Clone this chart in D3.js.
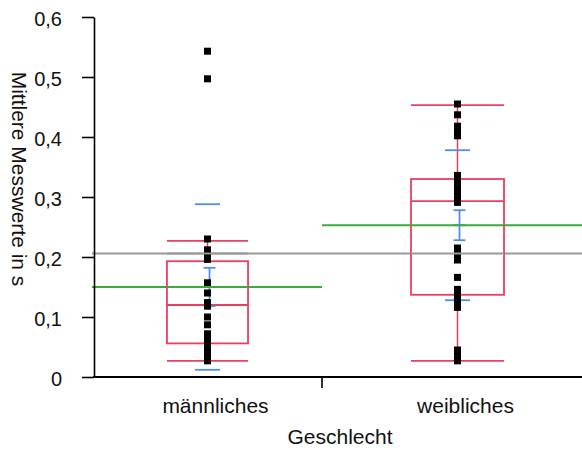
<!DOCTYPE html>
<html>
<head>
<meta charset="utf-8">
<script src="https://cdn.jsdelivr.net/npm/d3@7"></script>
<style>
	body { margin: 0; background: #fff; }
	text { font-family: 'Liberation Sans', Arial, sans-serif; fill: #111; }
</style>
</head>
<body>
<div id="chart"></div>
<script>
// groups and raw values
var groups = ['männliches', 'weibliches'];

var maleValues = [0.543, 0.497, 0.230, 0.212, 0.204, 0.196, 0.157, 0.140, 0.124, 0.118, 0.100, 0.087,
	0.072, 0.063, 0.054, 0.046, 0.039, 0.032, 0.027];

var femaleValues = [0.455, 0.437, 0.418, 0.410, 0.402, 0.336, 0.328, 0.320, 0.312, 0.304, 0.297, 0.291,
	0.215, 0.205, 0.195, 0.166, 0.146, 0.138, 0.131, 0.124, 0.116, 0.045, 0.035, 0.030, 0.027];

// box statistics as shown
var q1 = [0.056, 0.137];
var median = [0.120, 0.293];
var q3 = [0.193, 0.330];
var whiskerLow = [0.027, 0.027];
var whiskerHigh = [0.227, 0.453];
var means = [0.150, 0.253];
var sd = [0.138, 0.125];
var se = [0.032, 0.025];
var grandMean = 0.206;

var yTicks = [0, 0.1, 0.2, 0.3, 0.4, 0.5, 0.6];

var values = [maleValues, femaleValues];

var width = 582, height = 450;

var svg = d3.select('#chart').append('svg')
	.attr('width', width)
	.attr('height', height);

var yScale = d3.scaleLinear()
	.domain([0, 0.6])
	.range([377, 17]);

// group index -> centre of box
var xScale = d3.scaleLinear()
	.domain([0, 1])
	.range([207.5, 457.5]);

var divider = xScale(0.458);

var deFormat = d3.formatLocale({ decimal: ',', thousands: '.', grouping: [3], currency: ['', '€'] }).format('.1f');

var red = '#e8405f', blue = '#4f8ee8', green = '#3caa3c', grey = '#9a9a9a';

// overall mean
svg.append('line')
	.attr('x1', 92)
	.attr('x2', width)
	.attr('y1', yScale(grandMean))
	.attr('y2', yScale(grandMean))
	.attr('stroke', grey)
	.attr('stroke-width', 2);

// group means
svg.selectAll('.mean-line')
	.data(means)
	.enter().append('line')
	.attr('class', 'mean-line')
	.attr('x1', function(d, i) { return i === 0 ? 92 : divider; })
	.attr('x2', function(d, i) { return i === 0 ? divider : width; })
	.attr('y1', function(d) { return yScale(d); })
	.attr('y2', function(d) { return yScale(d); })
	.attr('stroke', green)
	.attr('stroke-width', 2);

var boxG = svg.selectAll('.box')
	.data(groups)
	.enter().append('g')
	.attr('class', 'box')
	.attr('transform', function(d, i) { return 'translate(' + xScale(i) + ',0)'; });

function halfWidth(i) {
	return 9.3 * Math.sqrt(values[i].length);
}

// whisker stems
boxG.append('line')
	.attr('x1', 0).attr('x2', 0)
	.attr('y1', function(d, i) { return yScale(whiskerLow[i]); })
	.attr('y2', function(d, i) { return yScale(whiskerHigh[i]); })
	.attr('stroke', red)
	.attr('stroke-width', 1.5);

// box
boxG.append('rect')
	.attr('x', function(d, i) { return -halfWidth(i); })
	.attr('width', function(d, i) { return 2 * halfWidth(i); })
	.attr('y', function(d, i) { return yScale(q3[i]); })
	.attr('height', function(d, i) { return yScale(q1[i]) - yScale(q3[i]); })
	.attr('fill', '#fff')
	.attr('stroke', red)
	.attr('stroke-width', 1.8);

// median and whisker caps
[median, whiskerLow, whiskerHigh].forEach(function(arr) {
	boxG.append('line')
		.attr('x1', function(d, i) { return -halfWidth(i); })
		.attr('x2', function(d, i) { return halfWidth(i); })
		.attr('y1', function(d, i) { return yScale(arr[i]); })
		.attr('y2', function(d, i) { return yScale(arr[i]); })
		.attr('stroke', red)
		.attr('stroke-width', 1.8);
});

// repaint mean lines over the white box fill
svg.selectAll('.mean-line-top')
	.data(means)
	.enter().append('line')
	.attr('x1', function(d, i) { return xScale(i) - halfWidth(i); })
	.attr('x2', function(d, i) { return xScale(i) + halfWidth(i); })
	.attr('y1', function(d) { return yScale(d); })
	.attr('y2', function(d) { return yScale(d); })
	.attr('stroke', green)
	.attr('stroke-width', 2);

svg.selectAll('.grand-top')
	.data(groups)
	.enter().append('line')
	.attr('x1', function(d, i) { return xScale(i) - halfWidth(i); })
	.attr('x2', function(d, i) { return xScale(i) + halfWidth(i); })
	.attr('y1', yScale(grandMean))
	.attr('y2', yScale(grandMean))
	.attr('stroke', grey)
	.attr('stroke-width', 2);

// +- 1 SD caps
boxG.each(function(d, i) {
	var g = d3.select(this);
	[means[i] - sd[i], means[i] + sd[i]].forEach(function(v) {
		g.append('line')
			.attr('x1', -12.5).attr('x2', 12.5)
			.attr('y1', yScale(v)).attr('y2', yScale(v))
			.attr('stroke', blue)
			.attr('stroke-width', 1.8);
	});

	// standard error bar
	var sx = 2;
	g.append('line')
		.attr('x1', sx).attr('x2', sx)
		.attr('y1', yScale(means[i] - se[i]))
		.attr('y2', yScale(means[i] + se[i]))
		.attr('stroke', blue)
		.attr('stroke-width', 1.8);
	[means[i] - se[i], means[i], means[i] + se[i]].forEach(function(v) {
		g.append('line')
			.attr('x1', sx - 6).attr('x2', sx + 6)
			.attr('y1', yScale(v)).attr('y2', yScale(v))
			.attr('stroke', blue)
			.attr('stroke-width', 1.8);
	});

	// points
	g.selectAll('.pt')
		.data(values[i])
		.enter().append('rect')
		.attr('class', 'pt')
		.attr('x', -3.5)
		.attr('y', function(v) { return yScale(v) - 3.5; })
		.attr('width', 7)
		.attr('height', 7)
		.attr('fill', '#000');
});

// y axis
var yAxis = d3.axisLeft(yScale)
	.tickValues(yTicks)
	.tickFormat(function(d) { return d === 0 ? '0' : deFormat(d); })
	.tickSize(12)
	.tickSizeOuter(0)
	.tickPadding(20);

var yAxisG = svg.append('g')
	.attr('transform', 'translate(94,0)')
	.call(yAxis);

yAxisG.selectAll('path, line').attr('stroke', '#000').attr('stroke-width', 1.6);
yAxisG.selectAll('text')
	.style('font-family', "'Liberation Sans', Arial, sans-serif")
	.style('font-size', '20px')
	.attr('dy', '0.42em')
	.attr('fill', '#111');

// x axis
svg.append('line')
	.attr('x1', 93).attr('x2', width)
	.attr('y1', 377).attr('y2', 377)
	.attr('stroke', '#000')
	.attr('stroke-width', 1.8);

svg.append('line')
	.attr('x1', divider).attr('x2', divider)
	.attr('y1', 377).attr('y2', 388)
	.attr('stroke', '#000')
	.attr('stroke-width', 1.6);

svg.selectAll('.cat-label')
	.data(groups)
	.enter().append('text')
	.attr('class', 'cat-label')
	.attr('x', function(d, i) { return xScale(i) + 8; })
	.attr('y', 413)
	.attr('text-anchor', 'middle')
	.style('font-size', '21px')
	.text(function(d) { return d; });

svg.append('text')
	.attr('x', 340)
	.attr('y', 444)
	.attr('text-anchor', 'middle')
	.style('font-size', '21px')
	.text('Geschlecht');

svg.append('text')
	.attr('transform', 'translate(12,179) rotate(90)')
	.attr('text-anchor', 'middle')
	.style('font-size', '21px')
	.text('Mittlere Messwerte in s');
</script>
</body>
</html>
